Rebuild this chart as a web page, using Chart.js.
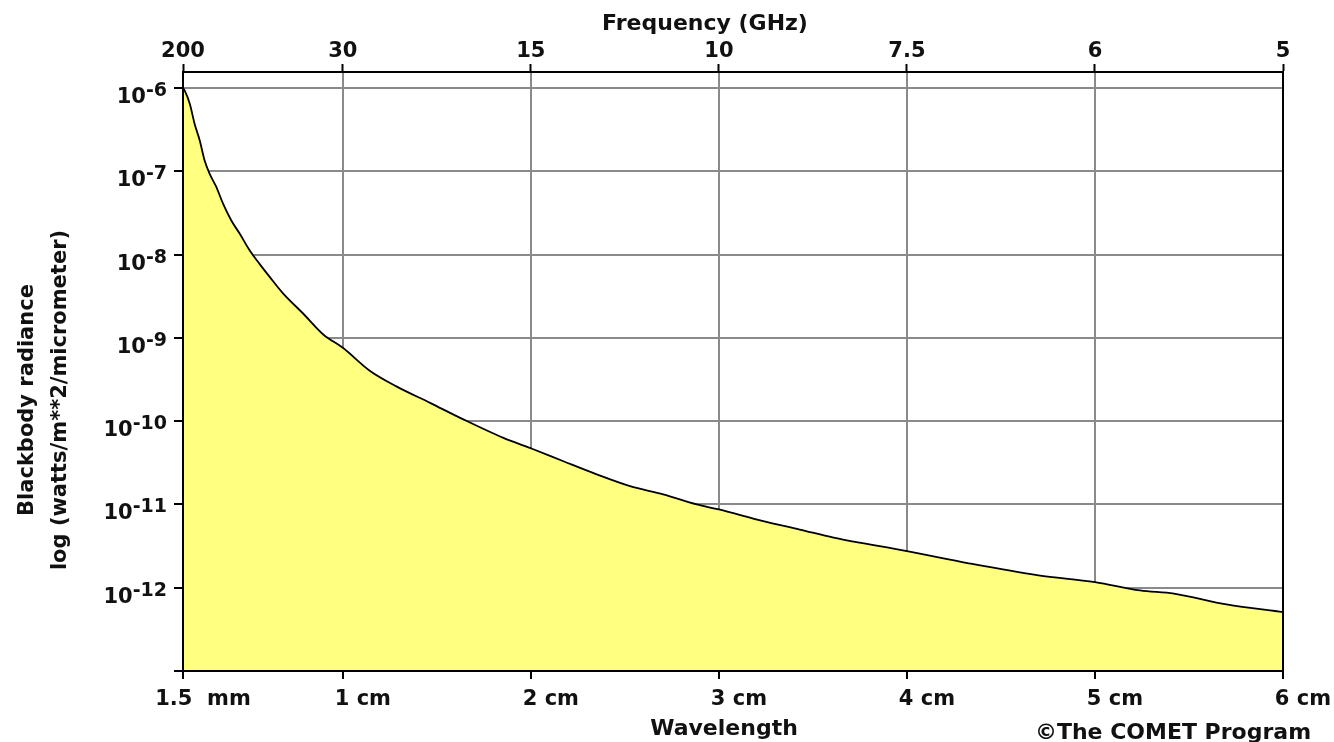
<!DOCTYPE html>
<html>
<head>
<meta charset="utf-8">
<title>Blackbody radiance vs wavelength</title>
<script src="https://cdn.jsdelivr.net/npm/chart.js@4.4.0/dist/chart.umd.min.js"></script>
<style>
  html, body { margin: 0; padding: 0; background: #fff; }
  #wrap { width: 1334px; height: 742px; }
</style>
</head>
<body>
<div id="wrap"><canvas id="chart" width="1334" height="742"></canvas></div>
<script>
// wavelength in cm, radiance in watts/m**2/micrometer
const wavelength = [0.15, 0.159, 0.186, 0.212, 0.239, 0.265, 0.292, 0.327, 0.363, 0.407, 0.452,
    0.505, 0.558, 0.611, 0.683, 0.79, 0.896, 1.0, 1.145, 1.287, 1.464, 1.641, 1.854, 2.013,
    2.173, 2.35, 2.527, 2.704, 2.882, 3.0, 3.236, 3.43, 3.61, 4.0, 4.336, 4.7, 5.0, 5.24,
    5.42, 5.7, 6.0];
const radiance = [1.0e-6, 9.3e-7, 6.5e-7, 3.7e-7, 2.35e-7, 1.35e-7, 9.3e-8, 6.5e-8, 4.1e-8,
    2.57e-8, 1.78e-8, 1.12e-8, 7.7e-9, 5.4e-9, 3.4e-9, 1.95e-9, 1.1e-9, 7.6e-10, 4.0e-10,
    2.6e-10, 1.66e-10, 1.05e-10, 6.3e-11, 4.6e-11, 3.3e-11, 2.3e-11, 1.66e-11, 1.32e-11,
    1.0e-11, 8.7e-12, 6.3e-12, 5.0e-12, 4.0e-12, 2.75e-12, 1.95e-12, 1.41e-12, 1.17e-12,
    9.3e-13, 8.5e-13, 6.3e-13, 5.1e-13];

const wavelengthTicks = [0.15, 1, 2, 3, 4, 5, 6];
const wavelengthLabels = ['1.5  mm', '1 cm', '2 cm', '3 cm', '4 cm', '5 cm', '6 cm'];
const frequencyLabels = ['200', '30', '15', '10', '7.5', '6', '5'];
const decadeExponents = [-13, -12, -11, -10, -9, -8, -7, -6];
const labelledExponents = [-12, -11, -10, -9, -8, -7, -6];

const FONT = 'DejaVu Sans';
const TEXT = '#111';
const GRID = '#8a8a8a';

// y tick labels with superscripts, axis titles and credit
const textPlugin = {
    id: 'textPlugin',
    afterDraw(chart) {
        const ctx = chart.ctx;
        const y = chart.scales.y;
        ctx.save();
        ctx.fillStyle = TEXT;
        ctx.textBaseline = 'alphabetic';
        ctx.textAlign = 'left';
        labelledExponents.forEach(e => {
            const py = y.getPixelForValue(Number('1e' + e));
            ctx.font = 'bold 19px "' + FONT + '"';
            const sup = String(e);
            const wSup = ctx.measureText(sup).width;
            ctx.font = 'bold 21px "' + FONT + '"';
            const wBase = ctx.measureText('10').width;
            const right = 167;
            ctx.fillText('10', right - wSup - wBase, py + 15);
            ctx.font = 'bold 19px "' + FONT + '"';
            ctx.fillText(sup, right - wSup, py + 8);
        });

        ctx.font = 'bold 22px "' + FONT + '"';
        ctx.textAlign = 'center';
        ctx.fillText('Frequency (GHz)', 705, 30);
        ctx.fillText('Wavelength', 724, 735);
        ctx.fillText('\u00A9The COMET Program', 1173, 739);

        ctx.font = 'bold 21px "' + FONT + '"';
        ctx.translate(33, 400);
        ctx.rotate(-Math.PI / 2);
        ctx.fillText('Blackbody radiance', 0, 0);
        ctx.fillText('log (watts/m**2/micrometer)', 0, 33);
        ctx.restore();
    }
};

const ctx = document.getElementById('chart').getContext('2d');
new Chart(ctx, {
    type: 'line',
    data: {
        datasets: [{
            data: wavelength.map((w, i) => ({ x: w, y: radiance[i] })),
            borderColor: '#000',
            borderWidth: 1.8,
            backgroundColor: '#ffff80',
            fill: 'start',
            pointRadius: 0,
            cubicInterpolationMode: 'monotone'
        }]
    },
    options: {
        responsive: false,
        devicePixelRatio: 1,
        animation: false,
        layout: { padding: 0 },
        plugins: {
            legend: { display: false },
            tooltip: { enabled: false }
        },
        scales: {
            x: {
                type: 'linear',
                position: 'bottom',
                min: 0.15,
                max: 6,
                afterBuildTicks: scale => { scale.ticks = wavelengthTicks.map(v => ({ value: v })); },
                afterFit: scale => { scale.height = 71; },
                grid: { color: GRID, lineWidth: 2, tickColor: '#000', tickWidth: 2, tickLength: 8 },
                border: { color: '#000', width: 2, z: 1 },
                ticks: {
                    autoSkip: false,
                    maxRotation: 0,
                    padding: 8,
                    labelOffset: 20,
                    color: TEXT,
                    font: { family: FONT, size: 21, weight: 'bold' },
                    callback: (v, i) => wavelengthLabels[i]
                }
            },
            x2: {
                type: 'linear',
                position: 'top',
                min: 0.15,
                max: 6,
                afterBuildTicks: scale => { scale.ticks = wavelengthTicks.map(v => ({ value: v })); },
                afterFit: scale => { scale.height = 72; },
                grid: { drawOnChartArea: false, tickColor: '#000', tickWidth: 2, tickLength: 8 },
                border: { color: '#000', width: 2, z: 1 },
                ticks: {
                    autoSkip: false,
                    maxRotation: 0,
                    padding: 0,
                    color: TEXT,
                    font: { family: FONT, size: 21, weight: 'bold' },
                    callback: (v, i) => frequencyLabels[i]
                }
            },
            y: {
                type: 'logarithmic',
                position: 'left',
                min: 1e-13,
                max: 1.56e-6,
                afterBuildTicks: scale => { scale.ticks = decadeExponents.map(e => ({ value: Number('1e' + e) })); },
                afterFit: scale => { scale.width = 183; },
                grid: { color: GRID, lineWidth: 2, tickColor: '#000', tickWidth: 2, tickLength: 9 },
                border: { color: '#000', width: 2, z: 1 },
                ticks: { callback: () => '' }
            },
            yR: {
                type: 'linear',
                position: 'right',
                min: 0,
                max: 1,
                afterFit: scale => { scale.width = 51; },
                grid: { drawOnChartArea: false, drawTicks: false },
                border: { color: '#000', width: 2, z: 1 },
                ticks: { display: false }
            }
        }
    },
    plugins: [textPlugin]
});
</script>
</body>
</html>
